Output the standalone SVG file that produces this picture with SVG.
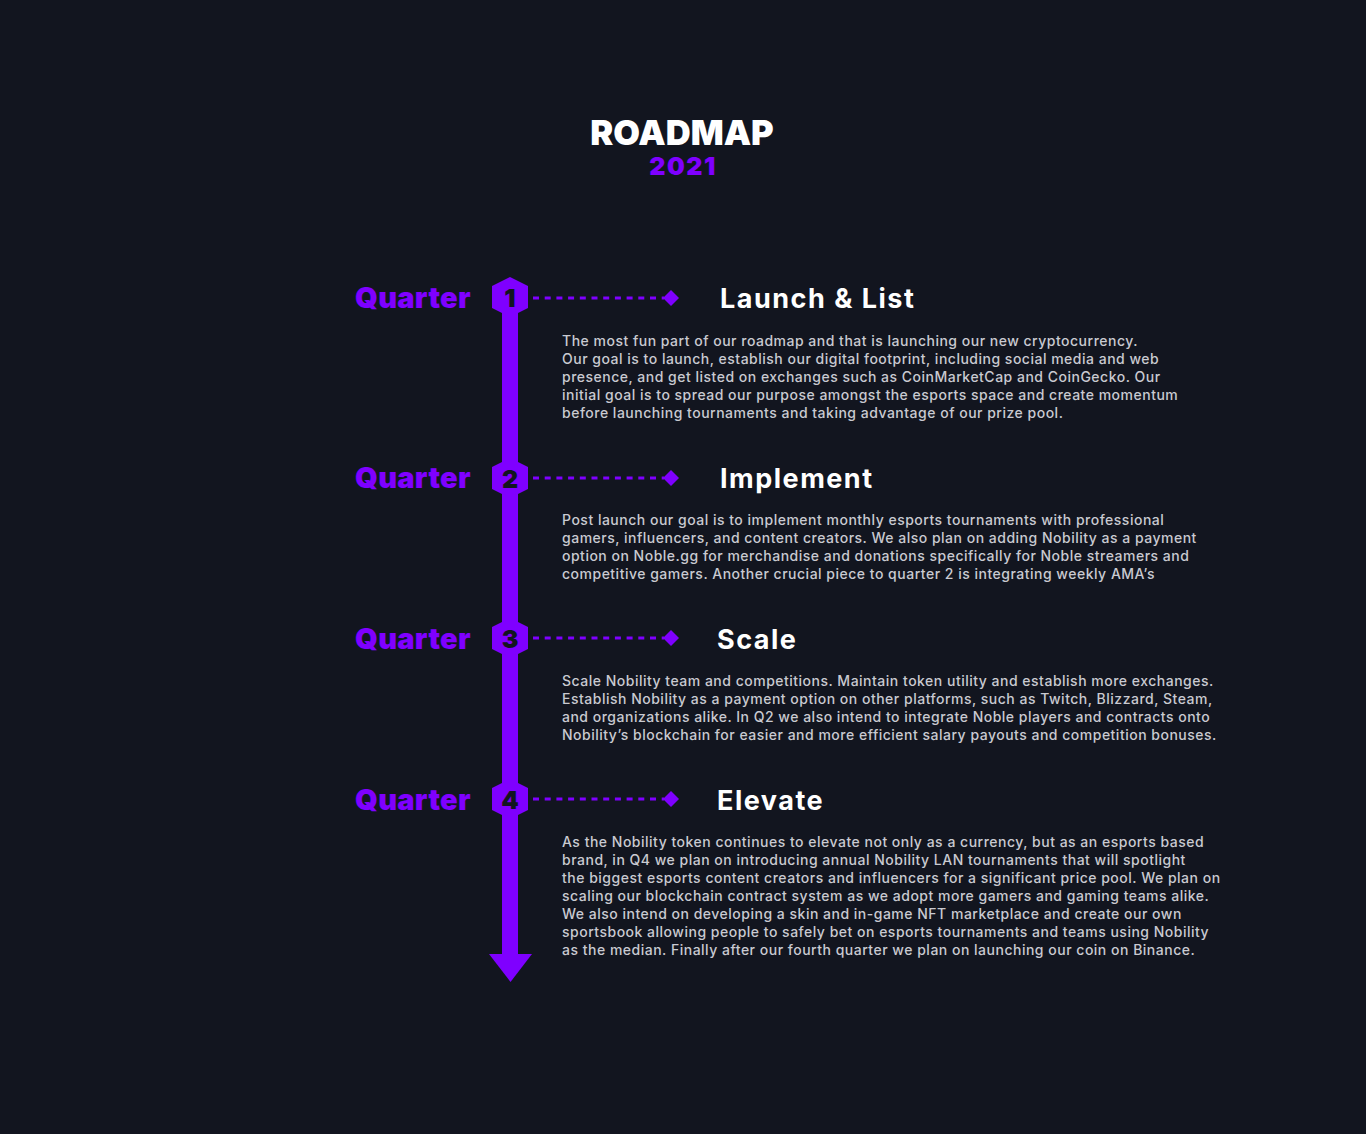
<svg xmlns="http://www.w3.org/2000/svg" width="1366" height="1134" viewBox="0 0 1366 1134">
<defs>
<style>
.title{font-family:Inter,"Liberation Sans",sans-serif;font-weight:900;fill:#ffffff;font-size:34.5px}
.year{font-family:Inter,"Liberation Sans",sans-serif;font-weight:900;fill:#7f00ff;font-size:25px;letter-spacing:1.5px}
.q{font-family:Inter,"Liberation Sans",sans-serif;font-weight:900;fill:#7f00ff;font-size:29px;letter-spacing:0.3px}
.num{font-family:Inter,"Liberation Sans",sans-serif;font-weight:900;fill:#12151f;font-size:25px}
.head{font-family:Inter,"Liberation Sans",sans-serif;font-weight:700;fill:#ffffff;font-size:27px;letter-spacing:1.5px}
.body{font-family:Inter,"Liberation Sans",sans-serif;font-weight:500;fill:#c9cad1;font-size:14px;letter-spacing:0.5px}
.hex{fill:#7f00ff}
.dash{stroke:#7f00ff;stroke-width:3;stroke-dasharray:6 5.7;fill:none}
.dia{fill:#7f00ff}
</style>
</defs>
<rect width="1366" height="1134" fill="#12151f"/>
<g id="title">
<text class="title" x="682" y="145" text-anchor="middle">ROADMAP</text>
<text class="year" x="683" y="175" text-anchor="middle">2021</text>
</g>
<g id="timeline">
<rect x="502" y="297" width="16" height="658" fill="#7f00ff"/>
<polygon points="489,954 532,954 510.5,982" fill="#7f00ff"/>
</g>
<g id="connectors">
<line class="dash" x1="533" y1="298" x2="664" y2="298"/>
<polygon class="dia" points="671,290 679,298 671,306 663,298"/>
<line class="dash" x1="533" y1="478" x2="664" y2="478"/>
<polygon class="dia" points="671,470 679,478 671,486 663,478"/>
<line class="dash" x1="533" y1="638" x2="664" y2="638"/>
<polygon class="dia" points="671,630 679,638 671,646 663,638"/>
<line class="dash" x1="533" y1="799" x2="664" y2="799"/>
<polygon class="dia" points="671,791 679,799 671,807 663,799"/>
</g>
<g id="q1">
<text class="q" x="355" y="308">Quarter</text>
<polygon class="hex" points="510,277 528,286 528,308 510,317 492,308 492,286"/>
<text class="num" x="510" y="307" text-anchor="middle">1</text>
<text class="head" x="720" y="308">Launch &amp; List</text>
<text class="body" x="562" y="346">The most fun part of our roadmap and that is launching our new cryptocurrency.</text>
<text class="body" x="562" y="364">Our goal is to launch, establish our digital footprint, including social media and web</text>
<text class="body" x="562" y="382">presence, and get listed on exchanges such as CoinMarketCap and CoinGecko. Our</text>
<text class="body" x="562" y="400">initial goal is to spread our purpose amongst the esports space and create momentum</text>
<text class="body" x="562" y="418">before launching tournaments and taking advantage of our prize pool.</text>
</g>
<g id="q2">
<text class="q" x="355" y="488">Quarter</text>
<polygon class="hex" points="510,458 528,467 528,489 510,498 492,489 492,467"/>
<text class="num" x="510" y="488" text-anchor="middle">2</text>
<text class="head" x="720" y="488">Implement</text>
<text class="body" x="562" y="525">Post launch our goal is to implement monthly esports tournaments with professional</text>
<text class="body" x="562" y="543">gamers, influencers, and content creators. We also plan on adding Nobility as a payment</text>
<text class="body" x="562" y="561">option on Noble.gg for merchandise and donations specifically for Noble streamers and</text>
<text class="body" x="562" y="579">competitive gamers. Another crucial piece to quarter 2 is integrating weekly AMA’s</text>
</g>
<g id="q3">
<text class="q" x="355" y="649">Quarter</text>
<polygon class="hex" points="510,618 528,627 528,649 510,658 492,649 492,627"/>
<text class="num" x="510" y="648" text-anchor="middle">3</text>
<text class="head" x="717" y="649">Scale</text>
<text class="body" x="562" y="686">Scale Nobility team and competitions. Maintain token utility and establish more exchanges.</text>
<text class="body" x="562" y="704">Establish Nobility as a payment option on other platforms, such as Twitch, Blizzard, Steam,</text>
<text class="body" x="562" y="722">and organizations alike. In Q2 we also intend to integrate Noble players and contracts onto</text>
<text class="body" x="562" y="740">Nobility’s blockchain for easier and more efficient salary payouts and competition bonuses.</text>
</g>
<g id="q4">
<text class="q" x="355" y="810">Quarter</text>
<polygon class="hex" points="510,779 528,788 528,810 510,819 492,810 492,788"/>
<text class="num" x="510" y="809" text-anchor="middle">4</text>
<text class="head" x="717" y="810">Elevate</text>
<text class="body" x="562" y="847">As the Nobility token continues to elevate not only as a currency, but as an esports based</text>
<text class="body" x="562" y="865">brand, in Q4 we plan on introducing annual Nobility LAN tournaments that will spotlight</text>
<text class="body" x="562" y="883">the biggest esports content creators and influencers for a significant price pool. We plan on</text>
<text class="body" x="562" y="901">scaling our blockchain contract system as we adopt more gamers and gaming teams alike.</text>
<text class="body" x="562" y="919">We also intend on developing a skin and in-game NFT marketplace and create our own</text>
<text class="body" x="562" y="937">sportsbook allowing people to safely bet on esports tournaments and teams using Nobility</text>
<text class="body" x="562" y="955">as the median. Finally after our fourth quarter we plan on launching our coin on Binance.</text>
</g>
</svg>
